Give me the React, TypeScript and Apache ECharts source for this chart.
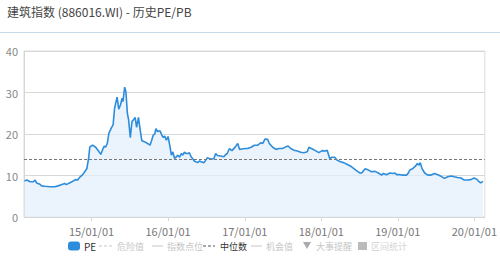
import React, { useEffect, useRef } from "react";
import * as echarts from "echarts";

const dates: string[] = [
  "2014-02-15","2014-02-26","2014-03-14","2014-03-30","2014-04-07","2014-04-14","2014-04-30","2014-05-08","2014-05-24","2014-06-16",
  "2014-07-10","2014-07-25","2014-08-10","2014-08-26","2014-09-02","2014-09-18","2014-10-04","2014-10-16","2014-10-27","2014-11-04",
  "2014-11-20","2014-12-02","2014-12-10","2014-12-18","2014-12-24","2015-01-06","2015-01-21","2015-02-06","2015-02-14","2015-02-22",
  "2015-03-03","2015-03-09","2015-03-17","2015-03-25","2015-04-07","2015-04-14","2015-04-21","2015-05-03","2015-05-11","2015-05-19",
  "2015-05-27","2015-05-31","2015-06-08","2015-06-14","2015-06-21","2015-06-27","2015-07-05","2015-07-13","2015-07-20","2015-07-28",
  "2015-08-04","2015-08-13","2015-08-21","2015-08-29","2015-09-13","2015-09-29","2015-10-07","2015-10-15","2015-10-23","2015-10-30",
  "2015-11-04","2015-11-12","2015-11-23","2015-12-01","2015-12-08","2015-12-16","2015-12-24","2016-01-01","2016-01-09","2016-01-17",
  "2016-01-24","2016-02-01","2016-02-09","2016-02-17","2016-02-25","2016-03-04","2016-03-11","2016-03-19","2016-03-27","2016-04-04",
  "2016-04-12","2016-04-20","2016-04-27","2016-05-05","2016-05-21","2016-05-29","2016-06-06","2016-06-21","2016-06-29","2016-07-07",
  "2016-07-23","2016-08-07","2016-08-15","2016-08-23","2016-09-08","2016-09-23","2016-10-01","2016-10-09","2016-10-20","2016-11-01",
  "2016-11-17","2016-11-28","2016-12-07","2016-12-18","2017-01-03","2017-01-15","2017-01-31","2017-02-16","2017-03-04","2017-03-19",
  "2017-03-27","2017-04-08","2017-04-20","2017-04-28","2017-05-14","2017-05-30","2017-06-14","2017-06-30","2017-07-16","2017-07-27",
  "2017-08-08","2017-08-24","2017-09-09","2017-09-25","2017-10-10","2017-10-26","2017-11-03","2017-11-19","2017-12-04","2017-12-20",
  "2018-01-05","2018-01-21","2018-01-29","2018-02-10","2018-02-21","2018-03-06","2018-03-17","2018-04-02","2018-04-17","2018-05-03",
  "2018-05-19","2018-06-04","2018-06-19","2018-07-05","2018-07-13","2018-07-29","2018-08-14","2018-08-29","2018-09-14","2018-09-30",
  "2018-10-16","2018-10-24","2018-11-08","2018-11-24","2018-12-10","2018-12-18","2018-12-26","2019-01-10","2019-01-26","2019-02-11",
  "2019-02-19","2019-02-27","2019-03-14","2019-03-27","2019-04-04","2019-04-12","2019-04-18","2019-04-26","2019-05-09","2019-05-24",
  "2019-06-09","2019-06-25","2019-07-11","2019-07-26","2019-08-11","2019-08-27","2019-09-12","2019-09-27","2019-10-13","2019-10-29",
  "2019-11-14","2019-11-29","2019-12-15","2019-12-31","2020-01-15","2020-01-23","2020-01-31","2020-02-11"
];

const peValues: number[] = [
  8.7,8.9,8.5,8.5,8.9,8.2,7.9,7.5,7.4,7.3,
  7.3,7.5,7.8,8.1,7.8,8.2,8.6,9.0,8.9,9.5,
  10.2,11.1,11.7,14.1,16.9,17.3,16.8,15.7,15.1,16.1,
  17.1,16.8,17.7,20.2,21.6,22.2,26.2,28.9,26.0,27.0,
  28.6,27.8,31.3,30.2,25.0,23.4,19.1,23.0,23.4,24.0,
  21.6,24.0,21.0,18.4,18.1,17.6,17.3,18.5,19.8,20.0,
  21.3,20.6,20.8,19.9,19.2,19.5,18.5,19.4,17.3,14.9,
  15.7,14.1,14.5,14.9,14.4,15.3,14.9,15.6,15.3,15.3,
  15.5,14.5,14.1,13.5,13.1,13.5,13.3,13.1,13.7,14.3,
  13.9,14.1,15.3,14.8,14.7,14.5,15.0,15.3,16.5,16.0,
  16.9,17.7,16.3,16.4,16.5,16.5,16.8,17.3,17.3,17.9,
  17.7,18.8,18.7,17.7,16.8,16.3,16.5,16.5,16.9,17.1,
  16.5,16.1,15.9,15.6,15.5,15.7,16.8,16.4,16.0,15.5,
  16.0,15.9,16.1,14.1,14.4,14.4,13.7,13.3,13.1,12.7,
  12.3,11.7,11.1,10.6,10.6,11.6,11.3,10.9,11.0,10.6,
  10.1,10.5,10.2,10.6,10.5,10.6,10.2,10.2,10.1,10.1,
  10.5,11.3,11.7,12.3,12.9,12.5,13.1,11.7,10.6,10.1,
  10.1,10.5,10.2,9.8,9.3,9.7,9.9,9.7,9.5,9.4,
  8.9,8.9,9.0,9.4,9.0,8.5,8.2,8.6
];

const medianPE = 13.9;
const yTicks: number[] = [0, 10, 20, 30, 40];
const titleText = "建筑指数 (886016.WI) - 历史PE/PB";
const legendItems: string[] = ["PE", "危险值", "指数点位", "中位数", "机会值", "大事提醒", "区间统计"];

const FONT = "'Noto Sans CJK SC', 'Noto Sans', sans-serif";

export default function App() {
  const ref = useRef<HTMLDivElement>(null);
  useEffect(() => {
    if (!ref.current) return;
    const chart = echarts.init(ref.current, undefined, { renderer: "svg" });
    const data = dates.map((d, i) => [d, peValues[i]]);
    const grey = "#c6c6c6";
    const ly = 246;
    const option: any = {
      animation: false,
      backgroundColor: "#fff",
      textStyle: { fontFamily: FONT },
      grid: { left: 24, right: 10, top: 51, bottom: 41, show: true, borderColor: "#dcdcdc", borderWidth: 1 },
      xAxis: {
        type: "time",
        min: "2014-02-13",
        max: "2020-02-20",
        minInterval: 365 * 24 * 3600 * 1000,
        maxInterval: 366 * 24 * 3600 * 1000,
        axisLine: { show: true, lineStyle: { color: "#d6d6d6" } },
        axisTick: { show: true, length: 4, lineStyle: { color: "#d6d6d6" } },
        splitLine: { show: false },
        axisLabel: {
          color: "#777",
          fontSize: 11,
          fontFamily: FONT,
          margin: 8,
          formatter: (v: number) => {
            const d = new Date(v);
            const yy = String(d.getFullYear()).slice(2);
            const mm = String(d.getMonth() + 1).padStart(2, "0");
            const dd = String(d.getDate()).padStart(2, "0");
            return `${yy}/${mm}/${dd}`;
          },
        },
      },
      yAxis: {
        type: "value",
        min: yTicks[0],
        max: yTicks[yTicks.length - 1],
        interval: 10,
        axisLine: { show: true, lineStyle: { color: "#d6d6d6" } },
        axisTick: { show: false },
        splitLine: { show: true, lineStyle: { color: "#d8d8d8" } },
        axisLabel: { color: "#888", fontSize: 11, fontFamily: FONT, margin: 6 },
      },
      series: [
        {
          type: "line",
          name: "PE",
          data,
          showSymbol: false,
          symbol: "none",
          lineStyle: { color: "#2e8ddb", width: 1.6 },
          areaStyle: { color: "#e2f0fc" },
          markLine: {
            silent: true,
            symbol: "none",
            label: { show: false },
            lineStyle: { color: "#777", type: [3, 2], width: 1 },
            data: [{ yAxis: medianPE }],
          },
        },
      ],
      graphic: [
        { type: "line", shape: { x1: 0, y1: 32.5, x2: 500, y2: 32.5 }, style: { stroke: "#c8dbe9", lineWidth: 1 } },
        { type: "text", x: 7, y: 11, style: { text: titleText, font: `12px ${FONT}`, fill: "#444", verticalAlign: "middle" } },
        // legend
        { type: "rect", shape: { x: 68, y: ly - 4.5, width: 12, height: 9, r: 3 }, style: { fill: "#2e8ddb" } },
        { type: "text", x: 84, y: ly, style: { text: legendItems[0], font: `10px ${FONT}`, fill: "#333", verticalAlign: "middle" } },
        { type: "line", shape: { x1: 99, y1: ly, x2: 112, y2: ly }, style: { stroke: grey, lineDash: [3, 2], lineWidth: 1 } },
        { type: "text", x: 117, y: ly, style: { text: legendItems[1], font: `9px ${FONT}`, fill: grey, verticalAlign: "middle" } },
        { type: "line", shape: { x1: 152, y1: ly, x2: 163, y2: ly }, style: { stroke: grey, lineWidth: 1 } },
        { type: "text", x: 167, y: ly, style: { text: legendItems[2], font: `9px ${FONT}`, fill: grey, verticalAlign: "middle" } },
        { type: "line", shape: { x1: 203, y1: ly, x2: 215, y2: ly }, style: { stroke: "#555", lineDash: [3, 2], lineWidth: 1 } },
        { type: "text", x: 220, y: ly, style: { text: legendItems[3], font: `9px ${FONT}`, fill: "#333", verticalAlign: "middle" } },
        { type: "line", shape: { x1: 251, y1: ly, x2: 262, y2: ly }, style: { stroke: grey, lineWidth: 1 } },
        { type: "text", x: 266, y: ly, style: { text: legendItems[4], font: `9px ${FONT}`, fill: grey, verticalAlign: "middle" } },
        { type: "polygon", shape: { points: [[303, ly - 4], [311, ly - 4], [307, ly + 3]] }, style: { fill: "#aaa" } },
        { type: "text", x: 316, y: ly, style: { text: legendItems[5], font: `9px ${FONT}`, fill: grey, verticalAlign: "middle" } },
        { type: "rect", shape: { x: 358, y: ly - 4, width: 9, height: 8 }, style: { fill: "#bbb" } },
        { type: "text", x: 371, y: ly, style: { text: legendItems[6], font: `9px ${FONT}`, fill: "#d4d4d4", verticalAlign: "middle" } },
      ],
    };
    chart.setOption(option);
    return () => chart.dispose();
  }, []);
  return <div ref={ref} style={{ position: "fixed", left: 0, top: 0, width: 500, height: 258 }} />;
}
